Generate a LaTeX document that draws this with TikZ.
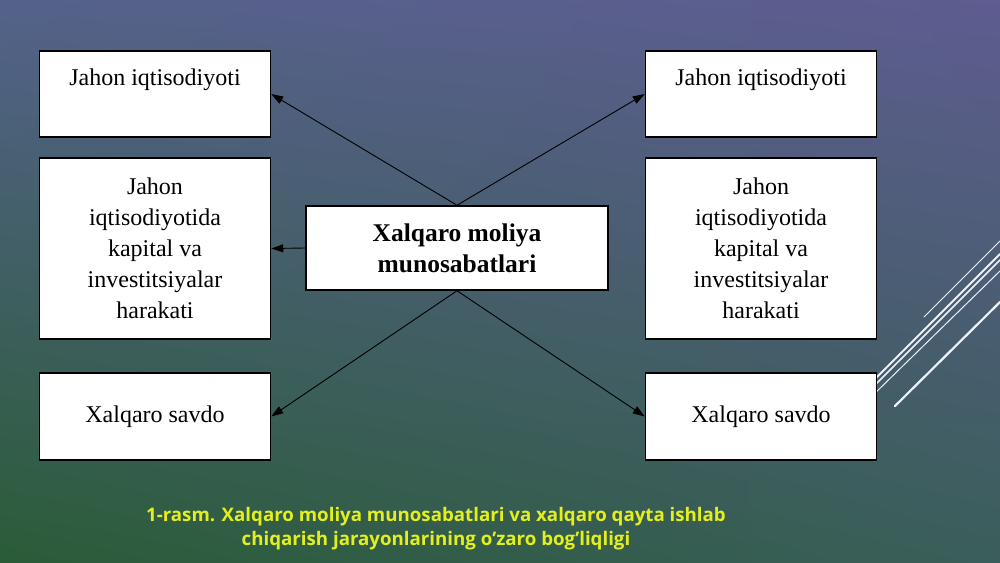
\documentclass[tikz,border=0pt]{standalone}
\usepackage{fontspec}
\setmainfont{Liberation Serif}
\newfontfamily\capfont{Open Sans}
\usetikzlibrary{arrows.meta,shadings}
\definecolor{bgtl}{RGB}{84,98,138}
\definecolor{bgtr}{RGB}{94,92,144}
\definecolor{bgbl}{RGB}{42,92,56}
\definecolor{bgbr}{RGB}{58,94,90}
\definecolor{capyellow}{RGB}{228,240,30}
\definecolor{decowhite}{RGB}{235,242,250}

\begin{document}
\begin{tikzpicture}[x=1pt,y=-1pt,
		box/.style={draw=black, fill=white, line width=1.5pt, minimum width=231pt, inner xsep=0pt, inner ysep=0pt, align=center, font=\fontsize{24}{31}\selectfont},
		arr/.style={-{Triangle[length=12pt,width=8pt]}, line width=0.9pt, color=black},
		deco/.style={color=decowhite, line cap=round}]
		\useasboundingbox (0,0) rectangle (1000,562);
		\shade[upper left=bgtl, upper right=bgtr, lower left=bgbl, lower right=bgbr] (0,0) rectangle (1000,562);

		\draw[deco, line width=1pt] (924,317) -- (1000,241);
		\draw[deco, line width=2pt] (870,384) -- (1000,254);
		\draw[deco, line width=1.5pt] (870,390) -- (1000,260);
		\draw[deco, line width=1pt] (870,398) -- (1000,271);
		\draw[deco, line width=2.2pt] (895,406) -- (1000,302);

		\node[box, text height=34pt, text depth=52pt] (ltop) at (155,94) {Jahon iqtisodiyoti};
		\node[box, minimum height=181pt] (lmid) at (155,248.5) {Jahon\\iqtisodiyotida\\kapital va\\investitsiyalar\\harakati};
		\node[box, minimum height=87pt] (lbot) at (155,416.5) {Xalqaro savdo};

		\node[box, text height=34pt, text depth=52pt] (rtop) at (761,94) {Jahon iqtisodiyoti};
		\node[box, minimum height=181pt] (rmid) at (761,248.5) {Jahon\\iqtisodiyotida\\kapital va\\investitsiyalar\\harakati};
		\node[box, minimum height=87pt] (rbot) at (761,416.5) {Xalqaro savdo};

		\node[box, minimum width=302pt, minimum height=84pt, font=\fontsize{25.5}{31}\selectfont\bfseries] (ctr) at (457,248) {Xalqaro moliya\\munosabatlari};

		\draw[arr] (ctr.north) -- (ltop.east);
		\draw[arr] (ctr.north) -- (rtop.west);
		\draw[arr] (ctr.west) -- (lmid.east);
		\draw[arr] (ctr.south) -- (lbot.east);
		\draw[arr] (ctr.south) -- (rbot.west);

		\node[align=center, color=capyellow, font=\capfont\bfseries\fontsize{18.7}{24}\selectfont] (caption) at (436,529) {1-rasm. Xalqaro moliya munosabatlari va xalqaro qayta ishlab\\chiqarish jarayonlarining o’zaro bog’liqligi};
	\end{tikzpicture}
\end{document}
